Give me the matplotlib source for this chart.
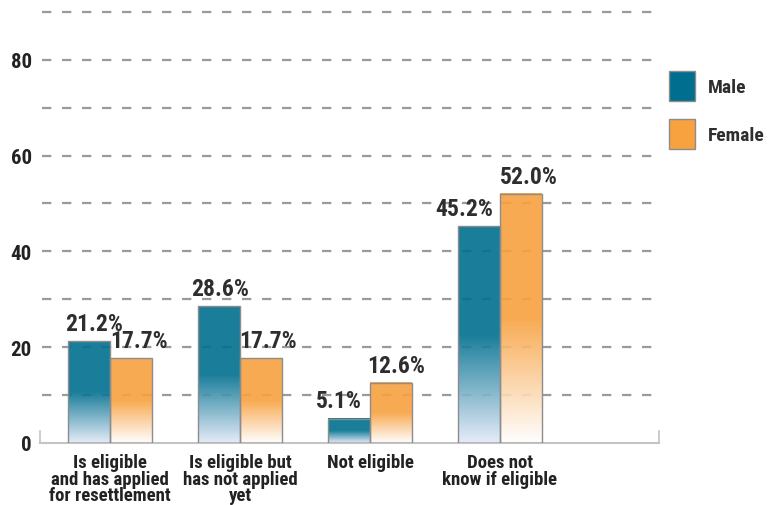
import numpy as np
import matplotlib
matplotlib.use("Agg")
import matplotlib.pyplot as plt
from matplotlib.patches import Patch
from matplotlib.colors import to_rgb

# ---- data ----
categories = ["Is eligible\nand has applied\nfor resettlement",
              "Is eligible but\nhas not applied\nyet",
              "Not eligible",
              "Does not\nknow if eligible"]
male = [21.2, 28.6, 5.1, 45.2]
female = [17.7, 17.7, 12.6, 52.0]
series_names = ["Male", "Female"]
yticks = [0, 20, 40, 60, 80]

# label nudges (points) to mimic original placement (style)
male_dx = [4, 1, -7, -11]
female_dx = [6, 5, 4, 6]

FONT = ["Liberation Sans Narrow", "Roboto Condensed", "DejaVu Sans"]
plt.rcParams["font.family"] = FONT
plt.rcParams["font.weight"] = "bold"

TXT = "#2e2e2e"
male_top = "#006f8f"
male_bot = "#e3eaf8"
fem_top = "#f8a13f"
fem_bot = "#ffffff"

fig = plt.figure(figsize=(7.7, 5.06), dpi=100)
ax = fig.add_axes([40 / 770, 62 / 506, 619 / 770, (444 - 8.1) / 506])

x = np.arange(len(categories))
w = 0.323
xlim = (-0.538, 4.223)
ylim = (0, 91)


def grad_bar(xc, h, top, bot):
    n = 256
    t = np.linspace(0, 1, n)  # 0 bottom, 1 top
    f = np.clip(t / 0.5, 0, 1)
    c0 = np.array(to_rgb(bot))
    c1 = np.array(to_rgb(top))
    rgb = c0[None, :] * (1 - f[:, None]) + c1[None, :] * f[:, None]
    img = rgb[:, None, :]
    ax.imshow(img, extent=[xc - w / 2, xc + w / 2, 0, h], origin="lower",
              aspect="auto", interpolation="bilinear", zorder=2, alpha=0.9)


# gridlines
for v in np.arange(10, 91, 10):
    ax.axhline(v, xmin=0.003, xmax=0.997, color="#9a9a9a", lw=1.6,
               dashes=(4.2, 4.8), zorder=1)

for i in range(len(categories)):
    grad_bar(x[i] - w / 2, male[i], male_top, male_bot)
    grad_bar(x[i] + w / 2, female[i], fem_top, fem_bot)

ax.bar(x - w / 2, male, w, facecolor="none", edgecolor="#8c8c8c", lw=1.0, zorder=3)
ax.bar(x + w / 2, female, w, facecolor="none", edgecolor="#8c8c8c", lw=1.0, zorder=3)

for i in range(len(categories)):
    ax.annotate(f"{male[i]:.1f}%", (x[i] - w / 2, male[i]), xytext=(male_dx[i], 8),
                textcoords="offset points", ha="center", va="baseline",
                fontsize=17, color=TXT, fontweight="bold", zorder=4)
    ax.annotate(f"{female[i]:.1f}%", (x[i] + w / 2, female[i]), xytext=(female_dx[i], 8),
                textcoords="offset points", ha="center", va="baseline",
                fontsize=17, color=TXT, fontweight="bold", zorder=4)

ax.set_xlim(*xlim)
ax.set_ylim(*ylim)

for s in ["top", "right", "left"]:
    ax.spines[s].set_visible(False)
ax.spines["bottom"].set_color("#c4c4c4")
ax.spines["bottom"].set_linewidth(1.5)
ax.axvline(xlim[0], ymin=0, ymax=12 / 436, color="#c4c4c4", lw=1.2, clip_on=False)
ax.axvline(xlim[1], ymin=0, ymax=12 / 436, color="#c4c4c4", lw=1.2, clip_on=False)

ax.set_yticks(yticks)
ax.set_yticklabels([str(v) for v in yticks], fontsize=15, color="#222222", fontweight="bold")
ax.tick_params(axis="y", length=0, pad=6)
ax.set_xticks(x)
ax.set_xticklabels(categories, fontsize=13.5, color="#222222", fontweight="bold",
                   linespacing=0.92)
ax.tick_params(axis="x", length=0, pad=7)

handles = [Patch(facecolor=male_top, edgecolor="#8c8c8c", label=series_names[0]),
           Patch(facecolor=fem_top, edgecolor="#8c8c8c", label=series_names[1])]
leg = fig.legend(handles=handles, loc="upper left",
                 bbox_to_anchor=(669 / 770, (506 - 72) / 506),
                 frameon=False, fontsize=14, handlelength=1.35, handleheight=2.0,
                 labelspacing=0.9, handletextpad=0.65, borderpad=0, borderaxespad=0)
for t in leg.get_texts():
    t.set_color(TXT)
    t.set_fontweight("bold")

fig.savefig("out.png", dpi=100)
